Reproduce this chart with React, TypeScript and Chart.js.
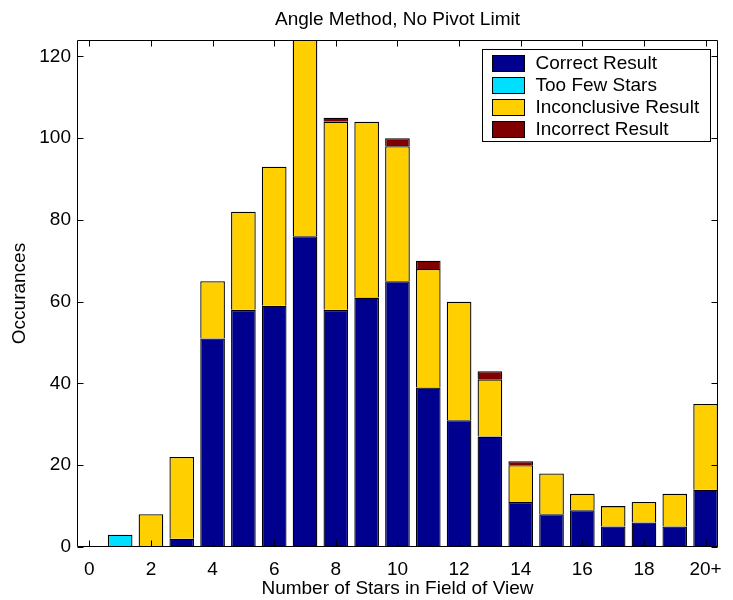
import React, { useEffect, useRef } from "react";
import { Chart, registerables } from "chart.js";

Chart.register(...registerables);

const categories = [0, 1, 2, 3, 4, 5, 6, 7, 8, 9, 10, 11, 12, 13, 14, 15, 16, 17, 18, 19, 20];
const correctResult = [0, 0, 0, 2, 51, 58, 59, 76, 58, 61, 65, 39, 31, 27, 11, 8, 9, 5, 6, 5, 14];
const tooFewStars = [0, 3, 0, 0, 0, 0, 0, 0, 0, 0, 0, 0, 0, 0, 0, 0, 0, 0, 0, 0, 0];
const inconclusiveResult = [0, 0, 8, 20, 14, 24, 34, 52, 46, 43, 33, 29, 29, 14, 9, 10, 4, 5, 5, 8, 21];
const incorrectResult = [0, 0, 0, 0, 0, 0, 0, 0, 1, 0, 2, 2, 0, 2, 1, 0, 0, 0, 0, 0, 0];
const xTickValues = [0, 2, 4, 6, 8, 10, 12, 14, 16, 18, 20];
const xTickLabels = ["0", "2", "4", "6", "8", "10", "12", "14", "16", "18", "20+"];
const yTickValues = [0, 20, 40, 60, 80, 100, 120];
const seriesLabels = ["Correct Result", "Too Few Stars", "Inconclusive Result", "Incorrect Result"];
const seriesColors = ["#00008F", "#00DFFF", "#FFCF00", "#800000"];

const FONT = "'Liberation Sans', Arial, Helvetica, sans-serif";

const framePlugin = {
  id: "matlabFrame",
  afterDatasetsDraw(chart: any) {
    const { ctx, chartArea } = chart;
    const { left, right, top, bottom } = chartArea;
    const xs = chart.scales.x;
    const ys = chart.scales.y;
    const tl = 6;
    ctx.save();
    ctx.strokeStyle = "#000";
    ctx.lineWidth = 1;
    ctx.beginPath();
    const L = Math.round(left) + 0.5;
    const R = Math.round(right) - 0.5;
    const T = Math.round(top) + 0.5;
    const B = Math.round(bottom) - 0.5;
    ctx.rect(L, T, R - L, B - T);
    xTickValues.forEach((v) => {
      const px = Math.round(xs.getPixelForValue(v)) + 0.5;
      ctx.moveTo(px, B);
      ctx.lineTo(px, B - tl);
      ctx.moveTo(px, T);
      ctx.lineTo(px, T + tl);
    });
    yTickValues.forEach((v) => {
      const py = Math.round(ys.getPixelForValue(v)) + 0.5;
      ctx.moveTo(L, py);
      ctx.lineTo(L + tl, py);
      ctx.moveTo(R, py);
      ctx.lineTo(R - tl, py);
    });
    ctx.stroke();
    ctx.restore();
  },
  afterDraw(chart: any) {
    const { ctx } = chart;
    const bx = 482.5, by = 49.5, bw = 228, bh = 92;
    ctx.save();
    ctx.fillStyle = "#fff";
    ctx.fillRect(bx, by, bw, bh);
    ctx.strokeStyle = "#000";
    ctx.lineWidth = 1;
    ctx.strokeRect(bx, by, bw, bh);
    ctx.font = "19px " + FONT;
    ctx.textBaseline = "middle";
    ctx.textAlign = "left";
    chart.data.datasets.forEach((ds: any, i: number) => {
      const cy = 62.5 + i * 22.2;
      ctx.fillStyle = ds.backgroundColor;
      ctx.fillRect(492.5, Math.round(cy - 8) + 0.5, 32, 16);
      ctx.strokeStyle = "#000";
      ctx.strokeRect(492.5, Math.round(cy - 8) + 0.5, 32, 16);
      ctx.fillStyle = "#000";
      ctx.fillText(ds.label, 535.5, cy + 1);
    });
    ctx.restore();
  },
};

export default function App() {
  const canvasRef = useRef<HTMLCanvasElement | null>(null);

  useEffect(() => {
    document.body.style.margin = "0";
    const canvas = canvasRef.current;
    if (!canvas) return;
    const seriesData = [correctResult, tooFewStars, inconclusiveResult, incorrectResult];
    const chart = new Chart(canvas, {
      type: "bar",
      data: {
        labels: categories,
        datasets: seriesData.map((d, i) => ({
          label: seriesLabels[i],
          data: d,
          backgroundColor: seriesColors[i],
          borderColor: "#000",
          borderWidth: 1.3,
          borderSkipped: "start",
          categoryPercentage: 1,
          barPercentage: 0.8,
        })),
      } as any,
      options: {
        responsive: false,
        animation: false,
        devicePixelRatio: 1,
        layout: { padding: { left: 0, right: 13, top: 0, bottom: 0 } },
        plugins: {
          legend: { display: false },
          tooltip: { enabled: false },
          title: {
            display: true,
            text: "Angle Method, No Pivot Limit",
            fullSize: false,
            color: "#000",
            font: { family: FONT, size: 19, weight: "normal" },
            padding: { top: 8, bottom: 9.2 },
          },
        },
        scales: {
          x: {
            type: "linear",
            stacked: true,
            offset: false,
            min: -0.4,
            max: 20.4,
            grid: { display: false, drawTicks: false, offset: false },
            border: { display: false },
            afterBuildTicks: (scale: any) => {
              scale.ticks = xTickValues.map((v) => ({ value: v }));
            },
            afterFit: (scale: any) => {
              scale.height = 53;
            },
            ticks: {
              autoSkip: false,
              maxRotation: 0,
              padding: 11,
              color: "#000",
              font: { family: FONT, size: 19 },
              callback: (v: any) => {
                const idx = xTickValues.indexOf(Number(v));
                return idx >= 0 ? xTickLabels[idx] : "";
              },
            },
            title: {
              display: true,
              text: "Number of Stars in Field of View",
              color: "#000",
              font: { family: FONT, size: 19 },
              padding: { top: 0, bottom: 0 },
            },
          },
          y: {
            type: "linear",
            stacked: true,
            min: 0,
            max: 124,
            grid: { display: false, drawTicks: false },
            border: { display: false },
            afterBuildTicks: (scale: any) => {
              scale.ticks = yTickValues.map((v) => ({ value: v }));
            },
            afterFit: (scale: any) => {
              scale.width = 77;
            },
            ticks: {
              padding: 6,
              color: "#000",
              font: { family: FONT, size: 19 },
            },
            title: {
              display: true,
              text: "Occurances",
              color: "#000",
              font: { family: FONT, size: 19 },
              padding: { top: 8, bottom: 0 },
            },
          },
        },
      } as any,
      plugins: [framePlugin],
    });
    return () => chart.destroy();
  }, []);

  return (
    <div style={{ width: 733, height: 600 }}>
      <canvas ref={canvasRef} width={733} height={600} style={{ display: "block" }} />
    </div>
  );
}
